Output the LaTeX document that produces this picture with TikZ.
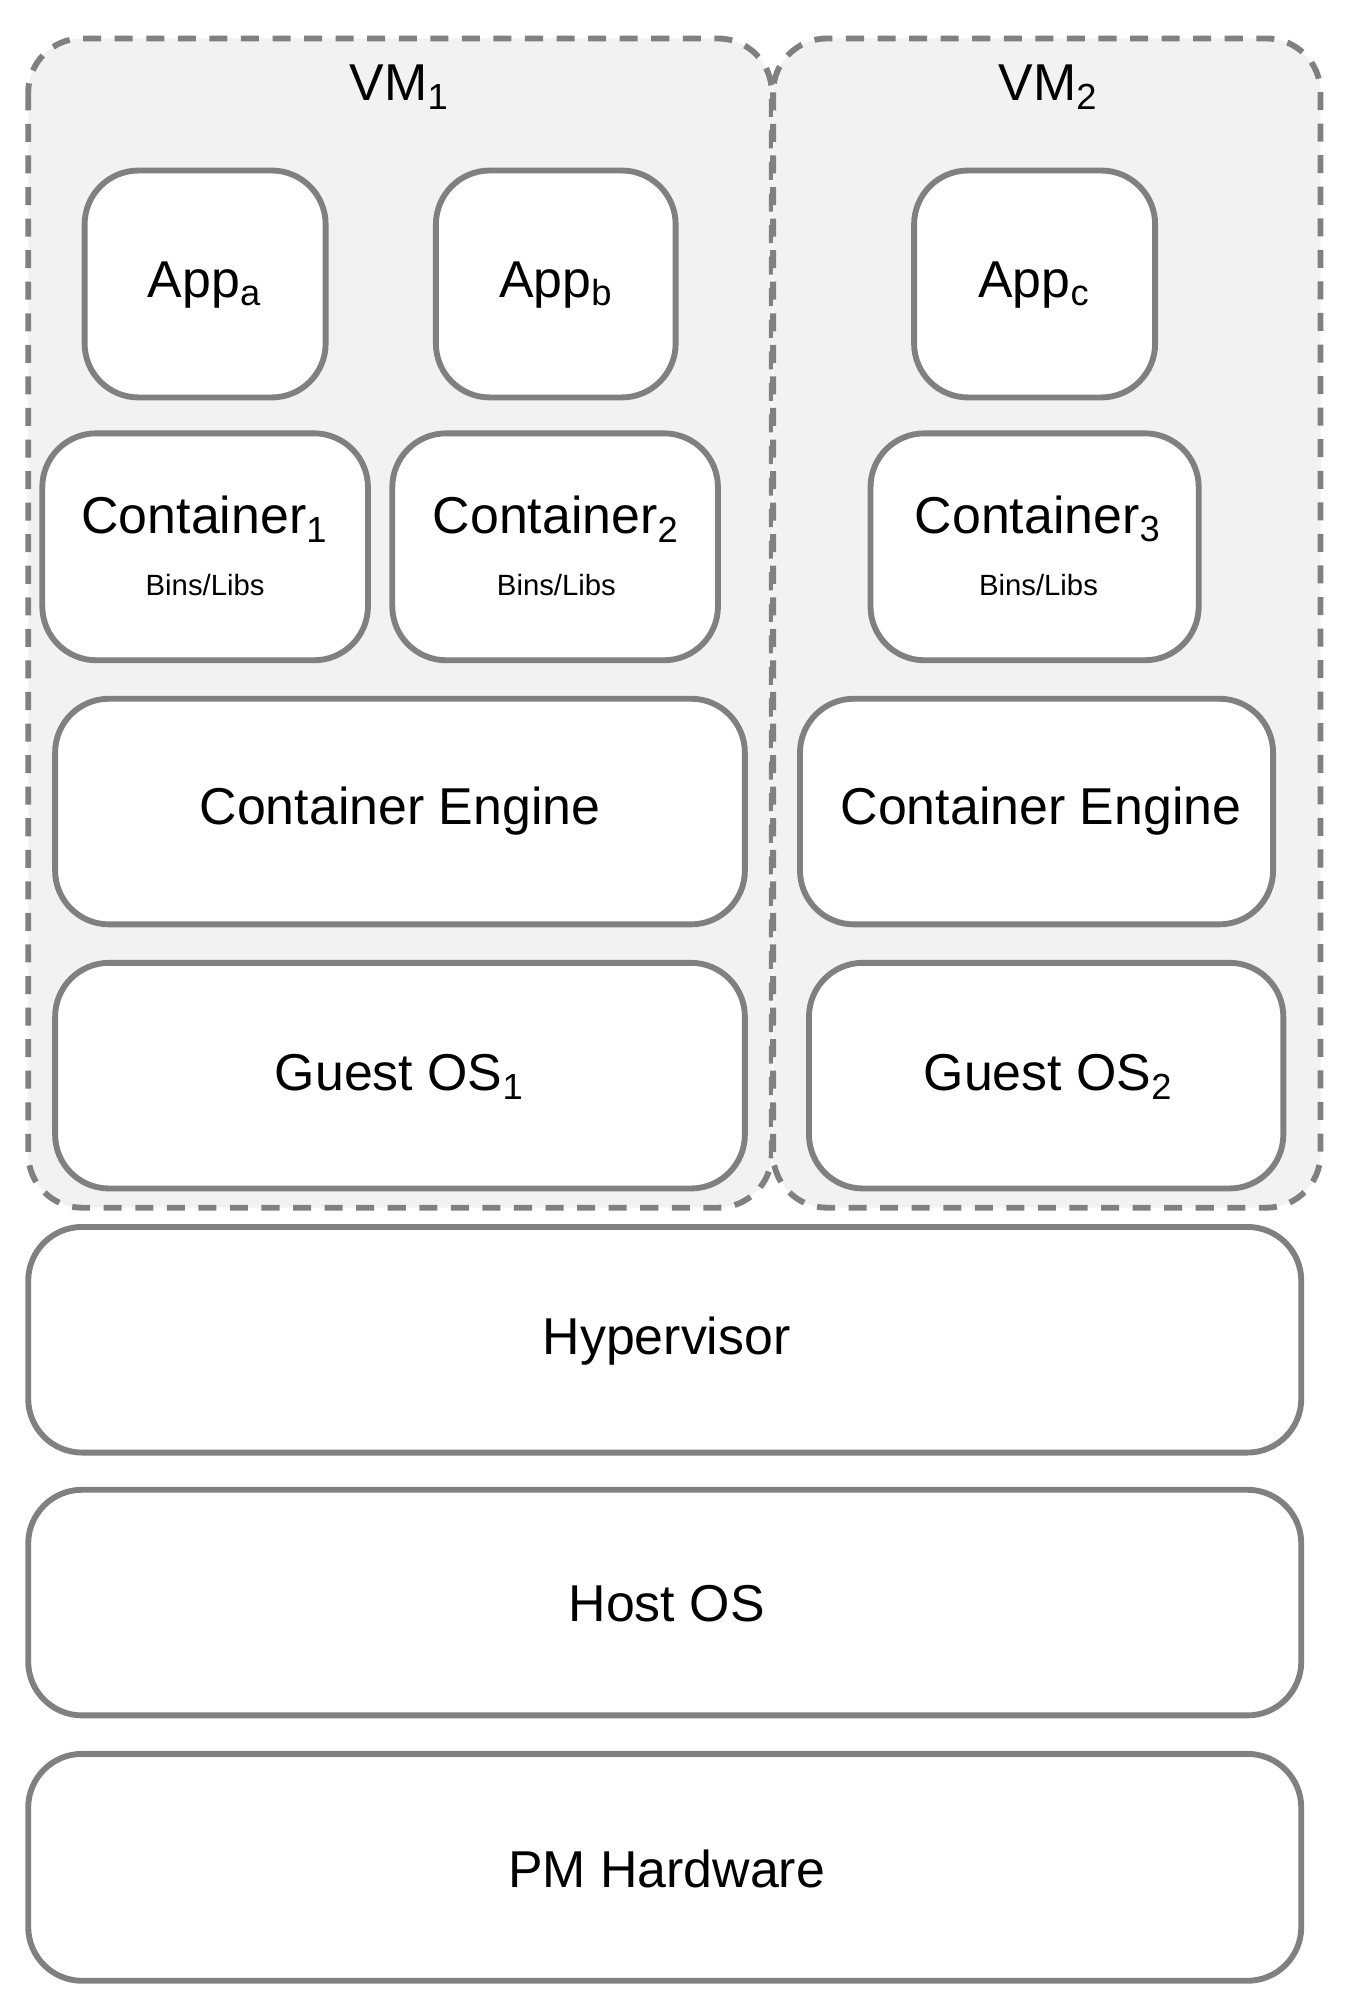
\documentclass[tikz,border=0pt]{standalone}
\usepackage{fontspec}
\setmainfont{Liberation Sans}
\begin{document}
\begin{tikzpicture}[x=0.01cm,y=-0.01cm,
  box/.style={draw=black!50,line width=1.3pt,rounded corners=0.42cm,fill=white},
  vm/.style={draw=black!50,line width=1.3pt,dashed,dash pattern=on 4pt off 3pt,rounded corners=0.42cm,fill=black!5},
  lbl/.style={font=\fontsize{11.5}{13}\selectfont},
  sm/.style={font=\fontsize{6.5}{8}\selectfont}]
\useasboundingbox (0,0) rectangle (1050,1560);
\draw[vm] (22,30) rectangle (602,942);
\draw[vm] (603,30) rectangle (1030,942);
\node[lbl] (vm1) at (312,68) {VM$_{\mathrm{1}}$};
\node[lbl] (vm2) at (818,68) {VM$_{\mathrm{2}}$};
\draw[box] (66,133) rectangle (254,310); \node[lbl] (appa) at (160,222) {App\textsubscript{a}};
\draw[box] (340,133) rectangle (527,310); \node[lbl] (appb) at (434,222) {App\textsubscript{b}};
\draw[box] (713,133) rectangle (901,310); \node[lbl] (appc) at (807,222) {App\textsubscript{c}};
\draw[box] (33,338) rectangle (287,515); \node[lbl] (c1) at (160,405) {Container\textsubscript{1}}; \node[sm] (b1) at (160,456) {Bins/Libs};
\draw[box] (306,338) rectangle (560,515); \node[lbl] (c2) at (434,405) {Container\textsubscript{2}}; \node[sm] (b2) at (434,456) {Bins/Libs};
\draw[box] (679,338) rectangle (935,515); \node[lbl] (c3) at (810,405) {Container\textsubscript{3}}; \node[sm] (b3) at (810,456) {Bins/Libs};
\draw[box] (43,545) rectangle (581,721); \node[lbl] (ce1) at (312,633) {Container Engine};
\draw[box] (624,545) rectangle (993,721); \node[lbl] (ce2) at (812,633) {Container Engine};
\draw[box] (43,751) rectangle (581,927); \node[lbl] (g1) at (312,840) {Guest OS\textsubscript{1}};
\draw[box] (631,751) rectangle (1001,927); \node[lbl] (g2) at (818,840) {Guest OS\textsubscript{2}};
\draw[box] (22,957) rectangle (1015,1133); \node[lbl] (hv) at (520,1046) {Hypervisor};
\draw[box] (22,1162) rectangle (1015,1338); \node[lbl] (hos) at (520,1251) {Host OS};
\draw[box] (22,1368) rectangle (1015,1545); \node[lbl] (pm) at (520,1458) {PM Hardware};
\end{tikzpicture}
\end{document}
